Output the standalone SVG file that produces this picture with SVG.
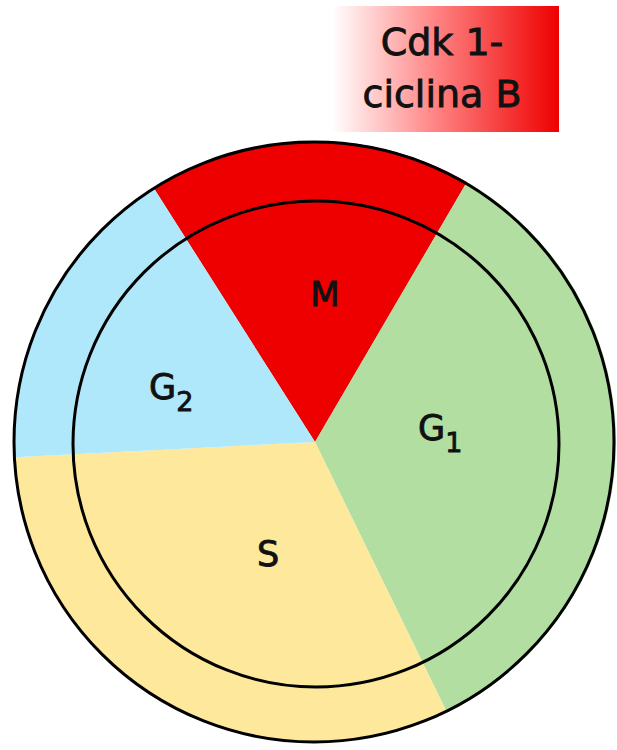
<svg xmlns="http://www.w3.org/2000/svg" width="617" height="750" viewBox="0 0 617 750">
<defs>
<linearGradient id="lab" x1="0" y1="0" x2="1" y2="0">
<stop offset="0" stop-color="#ffffff"/>
<stop offset="0.45" stop-color="#ff8585"/>
<stop offset="1" stop-color="#ee0000"/>
</linearGradient>
</defs>
<style>
.t{font-family:"DejaVu Sans","Liberation Sans",sans-serif;fill:#111;stroke:#111;stroke-width:0.9;}
.ring{fill:none;stroke:#000;stroke-width:3;}
</style>
<g id="label-cdk">
<rect x="332" y="6" width="227" height="126" fill="url(#lab)"/>
<text class="t" x="442" y="55" font-size="38" text-anchor="middle">Cdk 1-</text>
<text class="t" x="442" y="107" font-size="38" text-anchor="middle">ciclina B</text>
</g>
<g id="phase-M">
<path d="M315,442 L153.7,187.9 A301,301 0 0 1 466.9,182.1 Z" fill="#ee0000"/>
<text class="t" x="325" y="306" font-size="34" text-anchor="middle">M</text>
</g>
<g id="phase-G1">
<path d="M315,442 L466.9,182.1 A301,301 0 0 1 447,712.5 Z" fill="#b2dea2"/>
<text class="t" x="418" y="440" font-size="35">G<tspan font-size="27" dy="12">1</tspan></text>
</g>
<g id="phase-S">
<path d="M315,442 L447,712.5 A301,301 0 0 1 14.4,457.2 Z" fill="#fde89b"/>
<text class="t" x="268" y="566" font-size="35" text-anchor="middle">S</text>
</g>
<g id="phase-G2">
<path d="M315,442 L14.4,457.2 A301,301 0 0 1 153.7,187.9 Z" fill="#afe8fa"/>
<text class="t" x="149" y="399" font-size="35">G<tspan font-size="27" dy="12">2</tspan></text>
</g>
<g id="rings">
<circle class="ring" cx="314" cy="442" r="300"/>
<circle class="ring" cx="316" cy="444" r="243"/>
</g>
</svg>
